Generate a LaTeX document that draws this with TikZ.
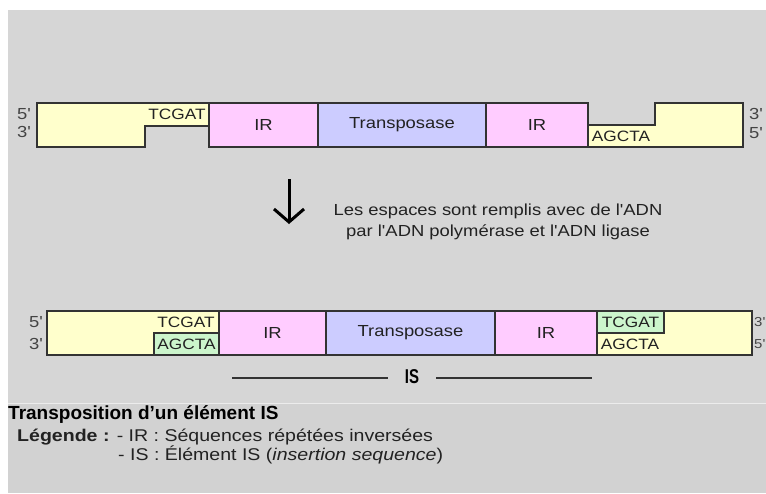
\documentclass[tikz,border=0pt]{standalone}
\usepackage{fontspec}
\setmainfont{Liberation Sans}
\newfontfamily\widefont{Liberation Sans}[FakeStretch=1.15]
\usetikzlibrary{arrows.meta}
\definecolor{bggray}{HTML}{D6D6D6}
\definecolor{bggray2}{HTML}{D2D2D2}
\definecolor{dnayellow}{HTML}{FFFFCC}
\definecolor{irpink}{HTML}{FFCCFF}
\definecolor{tpblue}{HTML}{CCCCFF}
\definecolor{fillgreen}{HTML}{CCF5CC}
\definecolor{edge}{HTML}{333333}
\definecolor{txt}{HTML}{222222}
\definecolor{endlab}{HTML}{444444}
\tikzset{
  seg/.style={draw=edge, line width=1.2pt, inner sep=0pt, outer sep=0pt, anchor=north west,
    font=\widefont\fontsize{16}{18}\selectfont, text=txt},
  base/.style={font=\widefont\fontsize{15}{17}\selectfont, text=txt, inner sep=0pt},
  endmark/.style={font=\widefont\fontsize{16}{18}\selectfont, text=endlab, inner sep=0pt},
  strand/.style={draw=edge, line width=1.2pt, fill=dnayellow},
  islabel/.style={font=\bfseries\fontsize{20}{22}\selectfont, text=black, inner sep=0pt},
  isline/.style={draw=black!80, line width=1.2pt}
}
\begin{document}
\begin{tikzpicture}[x=1pt,y=-1pt]
\useasboundingbox (0,0) rectangle (766,493);
\begin{scope}
\clip (0,0) rectangle (766,493);
% background
\fill[white] (0,0) rectangle (766,493);
\fill[bggray] (8,10) rectangle (766,493);
\fill[bggray2] (8,403) rectangle (766,493);
\draw[white!85!gray, line width=0.8pt] (8,403) -- (766,403);

% ---------- row 1 (before repair) ----------
\path[strand] (37,103) -- (209,103) -- (209,126) -- (145,126) -- (145,147) -- (37,147) -- cycle;
\node[base] (t1) at (177,114) {TCGAT};
\node[seg, fill=irpink, minimum width=109pt, minimum height=44pt] (ir1) at (209,103) {IR};
\node[seg, fill=tpblue, minimum width=168pt, minimum height=44pt] (tp1) at (318,103) {Transposase};
\node[seg, fill=irpink, minimum width=102pt, minimum height=44pt] (ir2) at (486,103) {IR};
\path[strand] (588,125) -- (655,125) -- (655,103) -- (743,103) -- (743,147) -- (588,147) -- cycle;
\node[base] (a1) at (621,136) {AGCTA};
\node[endmark] (l5a) at (24,114) {5'};
\node[endmark] (l3a) at (24,132) {3'};
\node[endmark, anchor=west] (r3a) at (749,114) {3'};
\node[endmark, anchor=west] (r5a) at (749,133) {5'};

% ---------- arrow and caption ----------
\coordinate (arrS) at (289,179);
\coordinate (arrE) at (289,224);
\draw[line width=3pt, -{Straight Barb[length=13pt, width=30pt, line width=3pt]}] (arrS) -- (arrE);
\node[font=\widefont\fontsize{16}{21}\selectfont, text=txt, align=center] (cap) at (498,222)
  {Les espaces sont remplis avec de l'ADN\\par l'ADN polymérase et l'ADN ligase};

% ---------- row 2 (after repair) ----------
\node[seg, fill=dnayellow, minimum width=172pt, minimum height=44pt] (y2l) at (47,311) {};
\node[seg, fill=fillgreen, minimum width=65pt, minimum height=22pt, font=\widefont\fontsize{15}{17}\selectfont] (g2l) at (154,333) {AGCTA};
\node[base] (t2) at (186,322) {TCGAT};
\node[seg, fill=irpink, minimum width=107pt, minimum height=44pt] (ir3) at (219,311) {IR};
\node[seg, fill=tpblue, minimum width=169pt, minimum height=44pt] (tp2) at (326,311) {Transposase};
\node[seg, fill=irpink, minimum width=102pt, minimum height=44pt] (ir4) at (495,311) {IR};
\node[seg, fill=dnayellow, minimum width=155pt, minimum height=44pt] (y2r) at (597,311) {};
\node[seg, fill=fillgreen, minimum width=67pt, minimum height=22pt, font=\widefont\fontsize{15}{17}\selectfont] (g2r) at (597,311) {TCGAT};
\node[base] (a2) at (630,344) {AGCTA};
\node[endmark] (l5b) at (36,322) {5'};
\node[endmark] (l3b) at (36,344) {3'};
\node[endmark, anchor=west, font=\widefont\fontsize{13}{15}\selectfont] (r3b) at (754,322) {3'};
\node[endmark, anchor=west, font=\widefont\fontsize{13}{15}\selectfont] (r5b) at (754,344) {5'};

% ---------- IS span ----------
\node[islabel] (is) at (412,377) {\scalebox{0.75}[1]{IS}};
\coordinate (isL) at (232,378);
\coordinate (isR) at (592,378);
\draw[isline] (isL) -- (388,378);
\draw[isline] (436,378) -- (isR);

% ---------- legend ----------
\node[anchor=west, inner sep=0pt, font=\bfseries\fontsize{19}{22}\selectfont, text=black] (title) at (8,414)
  {Transposition d'un élément IS};
\node[anchor=west, inner sep=0pt, font=\widefont\fontsize{17}{19}\selectfont, text=txt] (leg1) at (17,437)
  {\textbf{Légende :} - IR : Séquences répétées inversées};
\node[anchor=west, inner sep=0pt, font=\widefont\fontsize{17}{19}\selectfont, text=txt] (leg2) at (118,455)
  {- IS : Élément IS (\textit{insertion sequence})};
\end{scope}
\end{tikzpicture}
\end{document}
